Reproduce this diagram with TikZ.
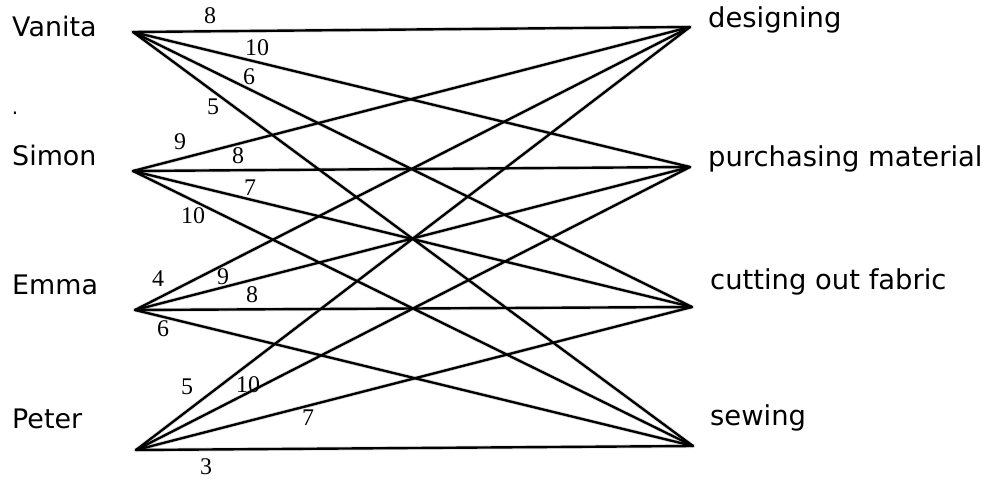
\documentclass[tikz,border=0pt]{standalone}
\usepackage{fontspec}
\setmainfont{DejaVu Sans}
\newfontfamily\numfont{Liberation Serif}
\begin{document}
\begin{tikzpicture}[x=1bp,y=-1bp,
  person/.style={anchor=base west,inner sep=0pt,font=\fontsize{27}{30}\selectfont},
  task/.style={anchor=base west,inner sep=0pt,font=\fontsize{27.5}{30}\selectfont},
  wt/.style={inner sep=0pt,font=\numfont\fontsize{24}{26}\selectfont},
  edge/.style={line width=2.4bp,black,line cap=round},
  shade/.style={line width=4bp,black!12,line cap=round}]
\useasboundingbox (0,0) rectangle (994,481);
% vertices
\coordinate (L1) at (133,32);
\coordinate (L2) at (133,171);
\coordinate (L3) at (135,310);
\coordinate (L4) at (136,450);
\coordinate (R1) at (690,27);
\coordinate (R2) at (690,167);
\coordinate (R3) at (692,307);
\coordinate (R4) at (693,446);
% shadows
\begin{scope}[shift={(3,5)}]
\foreach \i in {1,...,4}{\foreach \j in {1,...,4}{\draw[shade] (L\i) -- (R\j);}}
\end{scope}
% edges
\foreach \i in {1,...,4}{\foreach \j in {1,...,4}{\draw[edge] (L\i) -- (R\j);}}
% names
\node[person] (vanita) at (12,37) {Vanita};
\node[person] (simon) at (12,166) {Simon};
\node[person] (emma) at (12,295) {Emma};
\node[person] (peter) at (12,428) {Peter};
\node[inner sep=0pt,font=\fontsize{20}{22}\selectfont] (dot) at (15,113) {.};
\node[task] (designing) at (708,28) {designing};
\node[task] (purchasing) at (708,167) {purchasing material};
\node[task] (cutting) at (710,290) {cutting out fabric};
\node[task] (sewing) at (710,425) {sewing};
% weights
\node[wt] (w11) at (210,16) {8};
\node[wt] (w12) at (257,48) {10};
\node[wt] (w13) at (249,77) {6};
\node[wt] (w14) at (213,107) {5};
\node[wt] (w21) at (180,142) {9};
\node[wt] (w22) at (238,156) {8};
\node[wt] (w23) at (250,188) {7};
\node[wt] (w24) at (193,216) {10};
\node[wt] (w31) at (158,279) {4};
\node[wt] (w32) at (223,277) {9};
\node[wt] (w33) at (252,295) {8};
\node[wt] (w34) at (163,329) {6};
\node[wt] (w41) at (187,387) {5};
\node[wt] (w42) at (248,385) {10};
\node[wt] (w43) at (308,418) {7};
\node[wt] (w44) at (206,467) {3};
\end{tikzpicture}
\end{document}
